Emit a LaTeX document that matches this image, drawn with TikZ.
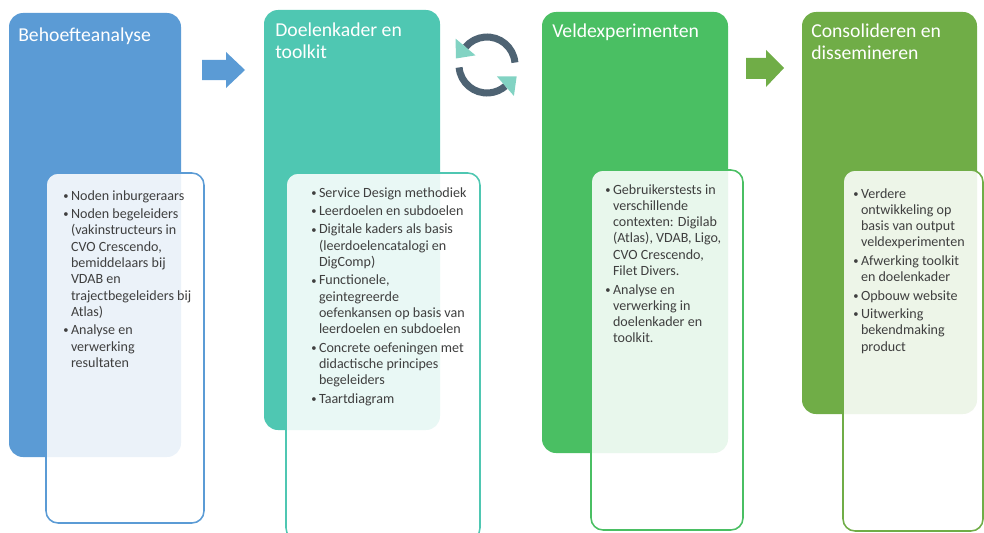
\documentclass[tikz,border=0pt]{standalone}
\usepackage{fontspec}
\usepackage{graphicx}
\setmainfont{Carlito}
\usetikzlibrary{calc}

\definecolor{phaseblue}{HTML}{5B9BD5}
\definecolor{phaseteal}{HTML}{4FC7B2}
\definecolor{phasegreen}{HTML}{4ABF63}
\definecolor{phaseolive}{HTML}{70AD47}
\definecolor{ringslate}{HTML}{4E6373}
\definecolor{ringmint}{HTML}{82D3C3}
\definecolor{bodygray}{HTML}{3F3F3F}

\tikzset{
  phase/.style={rounded corners=0.35cm},
  detail/.style={rounded corners=0.3cm, line width=1.1pt, fill=white, fill opacity=0.88},
  phasetitle/.style={anchor=north west, inner sep=0pt, text=white, align=left,
    font=\fontsize{14}{15.6}\selectfont},
  detailtext/.style={anchor=north west, inner sep=0pt, text=bodygray, align=left,
    font=\fontsize{10}{11.6}\selectfont},
  ring/.style={line width=0.175cm, ringslate},
  ringtip/.style={fill=ringmint}
}

\newcommand{\bulit}{\makebox[5.5pt][l]{\raisebox{0.6pt}{\scalebox{0.75}{\textbullet}}}}
\newcommand{\contl}{\hspace*{5.5pt}}

\begin{document}
\begin{tikzpicture}[x=0.025cm, y=-0.025cm]
\useasboundingbox (0,0) rectangle (984,532);

% Behoefteanalyse
\fill[phase, phaseblue] (9,13) rectangle (181,457);
\draw[detail, draw=phaseblue] (46,173) rectangle (204,523);
\node[phasetitle] (behoefte) at (18,28) {Behoefteanalyse};
\node[detailtext] (behoeftelist) at (63,190) {\bulit Noden inburgeraars\\[1.5pt]
\bulit Noden begeleiders\\
\contl (vakinstructeurs in\\
\contl CVO Crescendo,\\
\contl bemiddelaars bij\\
\contl VDAB en\\
\contl trajectbegeleiders bij\\
\contl Atlas)\\[1.5pt]
\bulit Analyse en\\
\contl verwerking\\
\contl resultaten};

\fill[phaseblue] (202,60) -- (226,60) -- (226,52) -- (245,70) -- (226,88) -- (226,80) -- (202,80) -- cycle;

% Doelenkader en toolkit
\fill[phase, phaseteal] (264,10) rectangle (440,430);
\draw[detail, draw=phaseteal] (286,173) rectangle (480,540);
\node[phasetitle] (doelen) at (275,23) {Doelenkader en\\toolkit};
\node[detailtext] (doelenlist) at (311,187) {\bulit Service Design methodiek\\[1.5pt]
\bulit Leerdoelen en subdoelen\\[1.5pt]
\bulit Digitale kaders als basis\\
\contl (leerdoelencatalogi en\\
\contl DigComp)\\[1.5pt]
\bulit Functionele,\\
\contl geintegreerde\\
\contl oefenkansen op basis van\\
\contl leerdoelen en subdoelen\\[1.5pt]
\bulit Concrete oefeningen met\\
\contl didactische principes\\
\contl begeleiders\\[1.5pt]
\bulit Taartdiagram};

% cycle icon
\begin{scope}[shift={(487,65)}, yscale=-1]
\draw[ring] (5:28) arc (5:140:28);
\fill[ringtip] (140:15) -- (140:41) -- ($(140:28)+(230:15)$) -- cycle;
\draw[ring] (185:28) arc (185:311:28);
\fill[ringtip] (311:15) -- (311:41) -- ($(311:28)+(41:15)$) -- cycle;
\end{scope}

% Veldexperimenten
\fill[phase, phasegreen] (542,12) rectangle (728,453);
\draw[detail, draw=phasegreen] (591,170) rectangle (743,530);
\node[phasetitle] (veld) at (552,24) {Veldexperimenten};
\node[detailtext] (veldlist) at (605,184) {\bulit Gebruikerstests in\\
\contl verschillende\\
\contl contexten: Digilab\\
\contl (Atlas), VDAB, Ligo,\\
\contl CVO Crescendo,\\
\contl Filet Divers.\\[1.5pt]
\bulit Analyse en\\
\contl verwerking in\\
\contl doelenkader en\\
\contl toolkit.};

\fill[phaseolive] (746,58) -- (766,58) -- (766,50) -- (784,68) -- (766,87) -- (766,79) -- (746,79) -- cycle;

% Consolideren en dissemineren
\fill[phase, phaseolive] (802,12) rectangle (977,414);
\draw[detail, draw=phaseolive] (843,170) rectangle (983,531);
\node[phasetitle] (consol) at (811,24) {Consolideren en\\dissemineren};
\node[detailtext] (consollist) at (853,188) {\bulit Verdere\\
\contl ontwikkeling op\\
\contl basis van output\\
\contl veldexperimenten\\[1.5pt]
\bulit Afwerking toolkit\\
\contl en doelenkader\\[1.5pt]
\bulit Opbouw website\\[1.5pt]
\bulit Uitwerking\\
\contl bekendmaking\\
\contl product};

\end{tikzpicture}
\end{document}
